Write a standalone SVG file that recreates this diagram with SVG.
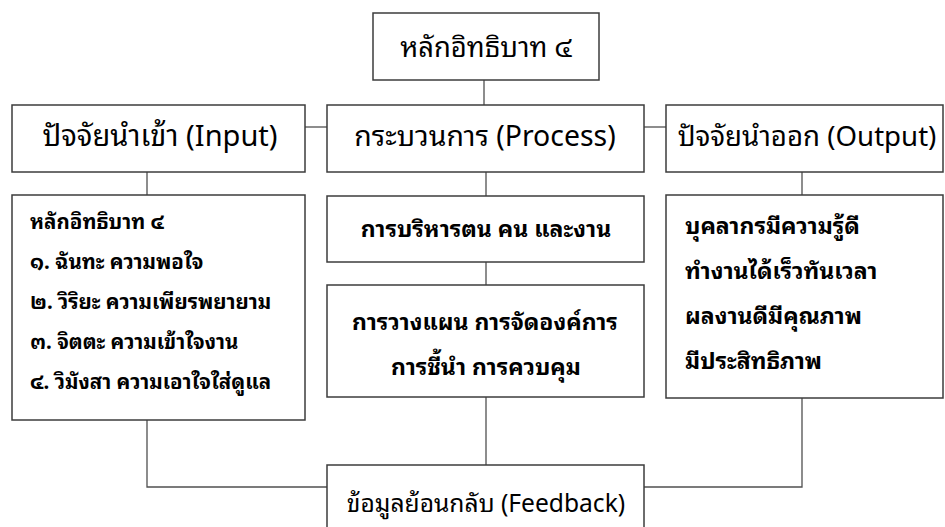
<svg xmlns="http://www.w3.org/2000/svg" width="945" height="527" viewBox="0 0 945 527">
<style>
.box{fill:#fff;stroke:#3c3c3c;stroke-width:1.5}
.con{fill:none;stroke:#505050;stroke-width:1.3}
.h{font-family:"Noto Sans Thai Looped","Leelawadee UI","Tahoma","Loma","Garuda","Noto Sans Thai","Noto Sans",sans-serif;font-size:28px;fill:#000;text-anchor:middle}
.b{font-family:"Noto Sans Thai Looped","Leelawadee UI","Tahoma","Loma","Garuda","Noto Sans Thai","Noto Sans",sans-serif;font-size:23px;font-weight:bold;fill:#000}
.s{font-size:20.5px}
.c{text-anchor:middle}
</style>
<rect width="945" height="527" fill="#fff"/>
<g id="connectors">
<path class="con" d="M484,80V105"/>
<path class="con" d="M305,127H327"/>
<path class="con" d="M644,127H666"/>
<path class="con" d="M147,172V195"/>
<path class="con" d="M486,172V196"/>
<path class="con" d="M486,262V285"/>
<path class="con" d="M802,172V195"/>
<path class="con" d="M486,397V465"/>
<path class="con" d="M147,420V487H327"/>
<path class="con" d="M802,398V487H644"/>
</g>
<g id="top">
<rect class="box" x="373" y="13" width="226" height="67"/>
<text class="h" x="486" y="57" style="font-size:27.4px">หลักอิทธิบาท ๔</text>
</g>
<g id="input">
<rect class="box" x="12" y="105" width="293" height="67"/>
<text class="h" x="160" y="146" style="font-size:29px">ปัจจัยนำเข้า (Input)</text>
</g>
<g id="process">
<rect class="box" x="327" y="105" width="317" height="67"/>
<text class="h" x="485" y="146" style="font-size:28.4px">กระบวนการ (Process)</text>
</g>
<g id="output">
<rect class="box" x="666" y="105" width="277" height="67"/>
<text class="h" x="807" y="146" style="font-size:27.6px">ปัจจัยนำออก (Output)</text>
</g>
<g id="input-detail">
<rect class="box" x="12" y="195" width="293" height="225"/>
<text class="b s" x="30" y="229">หลักอิทธิบาท ๔</text>
<text class="b s" x="30" y="269">๑. ฉันทะ ความพอใจ</text>
<text class="b s" x="30" y="309">๒. วิริยะ ความเพียรพยายาม</text>
<text class="b s" x="30" y="349">๓. จิตตะ ความเข้าใจงาน</text>
<text class="b s" x="30" y="389">๔. วิมังสา ความเอาใจใส่ดูแล</text>
</g>
<g id="process-1">
<rect class="box" x="327" y="196" width="317" height="66"/>
<text class="b c" x="486" y="237">การบริหารตน คน และงาน</text>
</g>
<g id="process-2">
<rect class="box" x="327" y="285" width="317" height="112"/>
<text class="b c" x="485" y="330">การวางแผน การจัดองค์การ</text>
<text class="b c" x="486" y="375">การชี้นำ การควบคุม</text>
</g>
<g id="output-detail">
<rect class="box" x="666" y="195" width="277" height="203"/>
<text class="b" x="685" y="234">บุคลากรมีความรู้ดี</text>
<text class="b" x="685" y="279">ทำงานได้เร็วทันเวลา</text>
<text class="b" x="685" y="324">ผลงานดีมีคุณภาพ</text>
<text class="b" x="685" y="369">มีประสิทธิภาพ</text>
</g>
<g id="feedback">
<rect class="box" x="327" y="465" width="317" height="80"/>
<text class="h" x="486" y="512" style="font-size:24.6px">ข้อมูลย้อนกลับ (Feedback)</text>
</g>
</svg>
